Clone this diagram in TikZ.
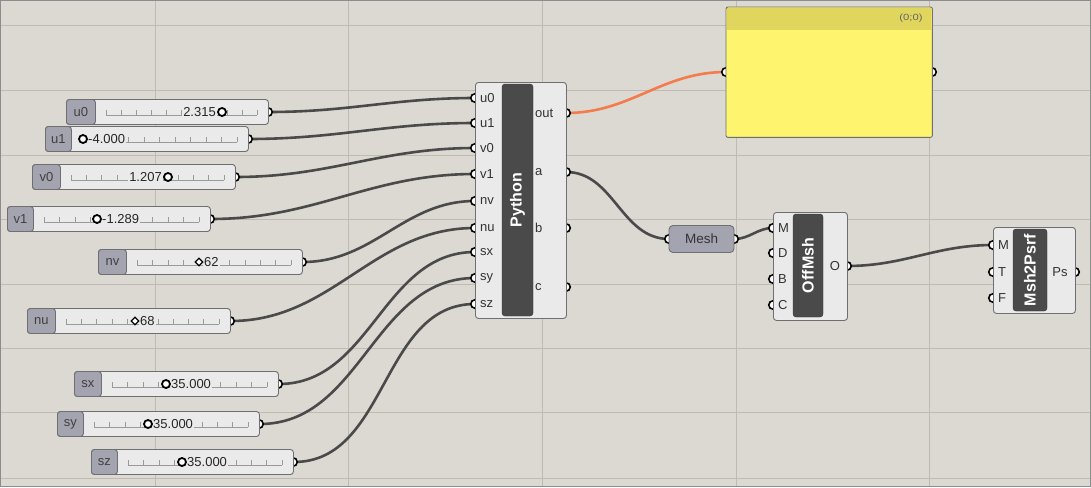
\documentclass[tikz,border=0pt]{standalone}
\usepackage{fontspec}
\setmainfont{Liberation Sans}
\usetikzlibrary{shapes.geometric}
\pgfdeclarelayer{bg}
\pgfdeclarelayer{wires}
\pgfsetlayers{bg,wires,main}
\definecolor{canvas}{HTML}{DCD9D2}
\definecolor{gridc}{HTML}{BFBBB3}
\definecolor{wirec}{HTML}{4A4A4A}
\definecolor{orangew}{HTML}{F47B4C}
\definecolor{bodyc}{HTML}{EAEAEA}
\definecolor{labc}{HTML}{A4A3B0}
\definecolor{outlc}{HTML}{6F6F72}
\definecolor{barc}{HTML}{4A4A4A}
\definecolor{panely}{HTML}{FFF46E}
\definecolor{panelh}{HTML}{E0D65E}
\definecolor{tickc}{HTML}{9A9A9A}
\tikzset{
  wire/.style={draw=wirec, line width=2.6pt},
  slbody/.style={draw=outlc, fill=bodyc, rounded corners=3pt, line width=0.9pt, minimum height=25pt, inner sep=0pt, anchor=west},
  sllab/.style={draw=outlc, fill=labc, rounded corners=3pt, line width=0.9pt, minimum height=25pt, inner sep=0pt, anchor=west, font=\fontsize{13}{15}\selectfont, text=black!75},
  grip/.style={circle, draw=black, fill=white, line width=1.6pt, inner sep=0pt, minimum size=8.5pt},
  comp/.style={draw=outlc, fill=bodyc, rounded corners=3pt, line width=0.9pt, inner sep=0pt, anchor=north west},
  titlebar/.style={draw=black!80, fill=barc, rounded corners=3pt, inner sep=0pt},
  title/.style={rotate=90, text=white, font=\bfseries\fontsize{16}{18}\selectfont},
  port/.style={font=\fontsize{13}{15}\selectfont, text=black!80, inner sep=1pt},
  value/.style={font=\fontsize{13}{15}\selectfont, text=black!85, inner sep=1pt, fill=bodyc},
  tick/.style={draw=tickc, line width=0.6pt},
  knobo/.style={circle, draw=black, fill=white, line width=1.8pt, inner sep=0pt, minimum size=8pt},
  knobd/.style={diamond, draw=black, fill=white, line width=1.3pt, inner sep=0pt, minimum size=8pt},
}
\begin{document}
\begin{tikzpicture}[x=1pt,y=-1pt]
\useasboundingbox (0,0) rectangle (1091,487);
% canvas and grid
\begin{pgfonlayer}{bg}
\fill[canvas] (0,0) rectangle (1091,487);
\foreach \gx in {155,348,542,736,929} \draw[gridc, line width=0.9pt] (\gx,0) -- (\gx,487);
\foreach \gy in {25,90,155,219,284,348,412,478} \draw[gridc, line width=0.9pt] (0,\gy) -- (1091,\gy);
\draw[black!45, line width=0.8pt] (0.4,0.4) rectangle (1090.6,486.6);
\end{pgfonlayer}

% sliders
\foreach \n/\xl/\xm/\xr/\yc/\kx/\kind/\anc/\off/\val in {
  u0/66/95/268/112/222/o/east/-5/2.315,
  u1/45/71/248/139/83/o/west/4/-4.000,
  v0/32/60/235/177/168/o/east/-5/1.207,
  v1/7/33/210/219/97/o/west/4/-1.289,
  nv/98/126/302/262/199/d/west/4/62,
  nu/27/55/230/321/135/d/west/4/68,
  sx/74/101/278/384/166/o/west/4/35.000,
  sy/57/83/259/424/148/o/west/4/35.000,
  sz/91/117/293/462/182/o/west/4/35.000}{
  \node[grip] (g\n) at (\xr,\yc) {};
  \node[slbody, minimum width={\xr-\xl}] (s\n) at (\xl,\yc) {};
  \node[sllab, minimum width={\xm-\xl}] (l\n) at (\xl,\yc) {\n};
  \draw[tick] (\xm+11,\yc+3) -- (\xr-11,\yc+3);
  \foreach \i in {0,...,10} \draw[tick] ({\xm+11+\i*(\xr-\xm-22)/10},\yc+3) -- ++(0,-5);
  \node[value, anchor=\anc] (t\n) at (\kx+\off,\yc) {\val};
  \node[knob\kind] (k\n) at (\kx,\yc) {};
}

% Python component
\foreach \p/\y in {u0/98,u1/123,v0/148,v1/174,nv/201,nu/228,sx/252,sy/278,sz/304}
  \node[grip] (pi\p) at (475,\y) {};
\foreach \p/\y in {out/113,a/172,b/228,c/287}
  \node[grip] (po\p) at (566,\y) {};
\node[comp, minimum width=91, minimum height=236] (py) at (475,82) {};
\node[titlebar, minimum width=31, minimum height=232] (pybar) at (517.5,200) {};
\node[title] (pyname) at (pybar) {Python};
\foreach \p/\y in {u0/98,u1/123,v0/148,v1/174,nv/201,nu/228,sx/252,sy/278,sz/304}
  \node[port, anchor=west] (pl\p) at (479,\y) {\p};
\foreach \p/\y in {out/113,a/172,b/228,c/287}
  \node[port, anchor=west] (pol\p) at (534,\y) {\p};

% Panel
\node[grip] (pnin) at (726,72) {};
\node[grip] (pnout) at (932,72) {};
\node[fill=panely, rounded corners=2pt, minimum width=206, minimum height=130, anchor=north west, inner sep=0pt] (panel) at (726,7) {};
\fill[panelh] (726.6,7.6) rectangle (931.4,30);
\draw[outlc, line width=0.9pt, rounded corners=2pt] (panel.north west) rectangle (panel.south east);
\node[font=\fontsize{9}{10}\selectfont, text=black!60, anchor=east, xscale=1.25] (pnidx) at (927,18) {(0;0)};

% Mesh parameter
\node[grip] (meshin) at (669,239) {};
\node[grip] (meshout) at (734,239) {};
\node[draw=outlc, fill=labc, rounded corners=4pt, line width=0.9pt, minimum width=65, minimum height=27, inner sep=0pt, font=\fontsize{13.5}{15}\selectfont, text=black!80] (mesh) at (701.5,239) {Mesh};

% OffMsh
\foreach \p/\y in {M/228,D/253,B/279,C/305}
  \node[grip] (omi\p) at (773,\y) {};
\node[grip] (omoO) at (847,266) {};
\node[comp, minimum width=74, minimum height=108] (om) at (773,212) {};
\node[titlebar, minimum width=30, minimum height=103] (ombar) at (808,265.5) {};
\node[title] (omname) at (ombar) {OffMsh};
\foreach \p/\y in {M/228,D/253,B/279,C/305}
  \node[port, anchor=west] (oml\p) at (777,\y) {\p};
\node[port] (omlO) at (835,266) {O};

% Msh2Psrf
\foreach \p/\y in {M/245,T/272,F/298}
  \node[grip] (mpi\p) at (993,\y) {};
\node[grip] (mpoPs) at (1075,272) {};
\node[comp, minimum width=82, minimum height=86] (mp) at (993,227) {};
\node[titlebar, minimum width=34, minimum height=82] (mpbar) at (1030,270) {};
\node[title] (mpname) at (mpbar) {Msh2Psrf};
\foreach \p/\y in {M/245,T/272,F/298}
  \node[port, anchor=west] (mpl\p) at (997,\y) {\p};
\node[port] (mplPs) at (1060,272) {Ps};

% wires
\begin{pgfonlayer}{wires}
\foreach \p in {u0,u1,v0,v1,nv,nu,sx,sy,sz}
  \draw[wire] (s\p.east) to[out=0,in=180] (pi\p.center);
\draw[wire, draw=orangew] (poout.center) to[out=0,in=180] (pnin.center);
\draw[wire] (poa.center) to[out=0,in=180] (meshin.center);
\draw[wire] (meshout.center) to[out=0,in=180] (omiM.center);
\draw[wire] (omoO.center) to[out=0,in=180] (mpiM.center);
\end{pgfonlayer}
\end{tikzpicture}
\end{document}
